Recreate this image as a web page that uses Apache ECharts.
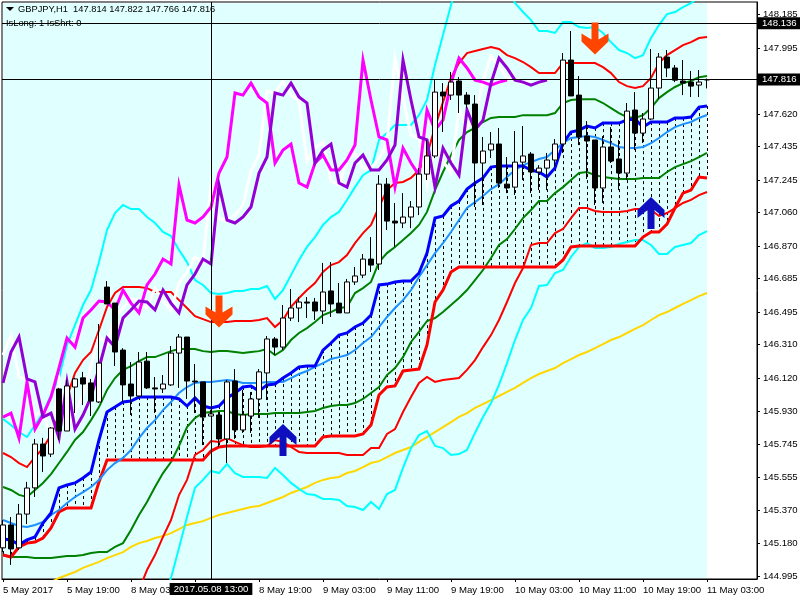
<!DOCTYPE html>
<html>
<head>
<meta charset="utf-8">
<style>html,body{margin:0;padding:0;background:#fff}#c{width:800px;height:600px}</style>
<script src="https://cdn.jsdelivr.net/npm/echarts@6/dist/echarts.min.js"></script>
</head>
<body>
<div id="c"></div>
<script>
const open=[145.155,145.285,145.155,145.347,145.496,145.745,145.688,146.058,145.819,146.069,146.121,146.092,145.984,146.637,146.546,146.279,146.086,146.018,146.216,146.064,146.058,146.081,146.262,146.353,146.103,146.098,145.904,145.910,145.774,146.103,145.825,145.904,146.001,146.149,146.342,146.296,146.461,146.518,146.552,146.552,146.501,146.615,146.546,146.490,146.666,146.705,146.796,146.768,147.222,147.012,147.001,147.035,147.092,147.279,147.382,147.745,147.728,147.808,147.728,147.677,147.342,147.416,147.450,147.222,147.205,147.347,147.393,147.291,147.313,147.359,147.450,147.927,147.728,147.495,147.473,147.200,147.433,147.365,147.285,147.643,147.512,147.592,147.768,147.944,147.882,147.808,147.802,147.785,147.814];
const close=[145.285,145.149,145.347,145.495,145.745,145.677,145.836,145.819,146.075,146.115,146.086,145.989,146.205,146.541,146.268,146.081,146.018,146.211,146.064,146.058,146.086,146.262,146.353,146.103,146.098,145.898,145.916,145.774,146.098,145.825,145.910,146.001,146.155,146.342,146.296,146.461,146.518,146.552,146.546,146.501,146.609,146.541,146.490,146.666,146.700,146.796,146.762,147.222,147.012,147.001,147.035,147.092,147.279,147.382,147.745,147.723,147.802,147.728,147.677,147.342,147.410,147.450,147.228,147.200,147.347,147.382,147.291,147.313,147.359,147.450,147.927,147.723,147.490,147.467,147.200,147.433,147.353,147.285,147.637,147.512,147.592,147.768,147.944,147.882,147.813,147.796,147.779,147.802,147.816];
const low=[145.132,145.058,145.143,145.290,145.444,145.586,145.671,145.768,145.819,145.921,145.967,145.904,145.978,146.541,146.188,145.984,145.910,146.012,146.058,145.921,146.035,146.075,146.064,146.001,145.921,145.739,145.904,145.728,145.637,145.774,145.808,145.808,145.893,145.995,146.251,146.279,146.444,146.438,146.461,146.450,146.427,146.467,146.490,146.490,146.649,146.688,146.723,146.734,146.961,146.865,146.972,146.972,147.046,147.245,147.370,147.518,147.700,147.626,147.654,147.092,147.103,147.370,147.200,147.171,147.160,147.245,147.171,147.188,147.188,147.319,147.399,147.723,147.444,147.251,147.103,147.115,147.342,147.188,147.245,147.416,147.456,147.586,147.705,147.830,147.802,147.728,147.717,147.717,147.766];
const high=[145.313,145.330,145.404,145.530,145.774,145.780,145.841,146.064,146.109,146.121,146.155,146.115,146.427,146.671,146.546,146.290,146.211,146.268,146.268,146.126,146.137,146.302,146.370,146.353,146.200,146.098,145.938,145.927,146.109,146.171,146.052,146.041,146.171,146.359,146.353,146.535,146.626,146.580,146.580,146.575,146.774,146.779,146.660,146.683,146.751,146.825,146.921,147.273,147.257,147.115,147.171,147.126,147.313,147.473,147.813,147.796,147.859,147.830,147.745,147.728,147.490,147.518,147.541,147.376,147.524,147.552,147.404,147.330,147.399,147.478,147.967,148.092,147.836,147.580,147.473,147.495,147.546,147.473,147.683,147.745,147.626,147.990,147.967,147.984,147.899,147.927,147.865,147.870,147.822];

const kijunBlue=[145.205,145.200,145.172,145.200,145.217,145.296,145.353,145.496,145.512,145.524,145.552,145.586,145.768,145.927,145.955,145.984,145.989,146.012,146.012,146.012,146.012,146.012,146.001,145.961,146.007,145.961,145.950,145.961,146.007,146.035,146.069,146.075,146.046,146.081,146.086,146.120,146.149,146.183,146.188,146.188,146.279,146.319,146.364,146.376,146.410,146.433,146.478,146.649,146.654,146.666,146.671,146.671,146.717,146.830,147.029,147.041,147.098,147.126,147.194,147.228,147.257,147.319,147.325,147.325,147.325,147.325,147.302,147.291,147.262,147.313,147.455,147.518,147.529,147.552,147.541,147.569,147.569,147.569,147.586,147.592,147.546,147.575,147.575,147.575,147.598,147.598,147.603,147.660,147.666];
const dodgerMa=[145.313,145.296,145.279,145.273,145.285,145.302,145.342,145.370,145.410,145.444,145.472,145.501,145.541,145.597,145.637,145.666,145.711,145.779,145.836,145.881,145.938,145.984,146.035,146.069,146.092,146.098,146.098,146.103,146.109,146.103,146.092,146.092,146.092,146.098,146.098,146.098,146.120,146.143,146.160,146.183,146.205,146.228,146.239,146.251,146.279,146.319,146.353,146.410,146.467,146.518,146.563,146.620,146.694,146.762,146.830,146.887,146.950,147.018,147.086,147.120,147.154,147.194,147.222,147.262,147.302,147.330,147.347,147.365,147.376,147.416,147.455,147.484,147.490,147.495,147.490,147.473,147.455,147.433,147.427,147.427,147.433,147.455,147.484,147.518,147.546,147.563,147.575,147.598,147.615];
const greenUpper=[145.501,145.484,145.456,145.444,145.484,145.524,145.574,145.637,145.700,145.768,145.813,145.881,145.955,146.052,146.120,146.166,146.188,146.216,146.239,146.239,146.256,146.273,146.285,146.285,146.285,146.273,146.268,146.273,146.273,146.268,146.262,146.268,146.273,146.285,146.251,146.279,146.336,146.376,146.404,146.438,146.478,146.495,146.518,146.524,146.603,146.631,146.666,146.779,146.830,146.865,146.904,146.944,146.990,147.064,147.188,147.291,147.387,147.473,147.518,147.541,147.575,147.598,147.603,147.603,147.603,147.614,147.614,147.614,147.614,147.626,147.683,147.700,147.705,147.705,147.705,147.683,147.654,147.626,147.603,147.598,147.614,147.654,147.711,147.745,147.774,147.796,147.808,147.830,147.836];
const greenLower=[145.114,145.103,145.103,145.103,145.097,145.097,145.097,145.103,145.109,145.109,145.114,145.126,145.131,145.131,145.160,145.182,145.256,145.342,145.416,145.501,145.580,145.643,145.734,145.841,145.893,145.921,145.927,145.933,145.933,145.916,145.910,145.916,145.916,145.916,145.921,145.921,145.921,145.921,145.927,145.933,145.950,145.961,145.967,145.967,145.978,146.001,146.035,146.069,146.137,146.177,146.239,146.325,146.382,146.444,146.461,146.495,146.535,146.575,146.620,146.677,146.734,146.802,146.876,146.910,146.967,147.029,147.075,147.126,147.126,147.171,147.205,147.245,147.285,147.291,147.273,147.262,147.257,147.251,147.251,147.251,147.257,147.257,147.257,147.291,147.319,147.336,147.353,147.376,147.399];
const redThick=[145.114,145.103,145.160,145.182,145.188,145.211,145.268,145.359,145.382,145.382,145.382,145.382,145.530,145.654,145.654,145.654,145.654,145.654,145.654,145.654,145.654,145.654,145.654,145.654,145.654,145.654,145.705,145.728,145.734,145.734,145.734,145.734,145.734,145.734,145.734,145.734,145.734,145.734,145.734,145.734,145.785,145.791,145.791,145.791,145.791,145.802,145.853,146.024,146.069,146.075,146.160,146.166,146.171,146.308,146.552,146.620,146.723,146.751,146.751,146.751,146.751,146.751,146.751,146.751,146.751,146.751,146.751,146.751,146.751,146.751,146.791,146.865,146.870,146.870,146.870,146.870,146.870,146.870,146.870,146.870,146.921,146.950,146.950,146.995,147.086,147.171,147.188,147.262,147.257];
const redUpper=[145.694,145.671,145.637,145.614,145.671,145.722,145.796,145.910,146.012,146.149,146.222,146.268,146.393,146.524,146.603,146.637,146.637,146.637,146.631,146.609,146.609,146.609,146.563,146.518,146.472,146.455,146.438,146.438,146.438,146.444,146.444,146.444,146.450,146.461,146.410,146.450,146.524,146.575,146.620,146.660,146.723,146.762,146.779,146.819,146.887,146.944,146.990,147.092,147.188,147.228,147.234,147.257,147.302,147.387,147.546,147.688,147.825,147.910,147.967,147.978,147.990,148.001,147.990,147.955,147.938,147.916,147.887,147.853,147.853,147.853,147.910,147.910,147.910,147.910,147.910,147.887,147.853,147.802,147.779,147.768,147.779,147.825,147.910,147.955,147.984,148.012,148.029,148.052,148.058];
const redLowerStart=16;
const redLower=[144.774,144.916,145.029,145.114,145.217,145.313,145.455,145.541,145.683,145.711,145.762,145.757,145.779,145.757,145.739,145.728,145.728,145.734,145.768,145.757,145.728,145.700,145.694,145.694,145.694,145.694,145.694,145.683,145.683,145.683,145.722,145.722,145.802,145.830,145.927,146.012,146.092,146.126,146.098,146.109,146.115,146.120,146.166,146.222,146.296,146.364,146.450,146.552,146.660,146.745,146.876,146.887,146.887,146.944,146.967,147.029,147.086,147.086,147.069,147.064,147.064,147.064,147.069,147.080,147.080,147.075,147.041,147.058,147.086,147.115,147.132,147.160,147.177];
const cyanUpper=[145.887,145.853,145.813,145.785,145.853,145.921,146.024,146.120,146.308,146.421,146.535,146.620,146.779,146.961,147.058,147.103,147.080,147.080,147.035,147.001,146.950,146.927,146.848,146.779,146.677,146.649,146.603,146.598,146.603,146.615,146.615,146.626,146.626,146.643,146.569,146.620,146.705,146.791,146.865,146.921,146.990,147.035,147.064,147.132,147.205,147.273,147.302,147.473,147.512,147.558,147.558,147.558,147.614,147.700,147.899,148.069,148.240,148.37,148.44,148.48,148.50,148.48,148.44,148.36,148.251,148.200,148.154,148.092,148.092,148.081,148.143,148.143,148.115,148.109,148.115,148.081,148.029,147.984,147.967,147.938,147.955,148.052,148.126,148.188,148.200,148.228,148.251,148.285,148.313];
const cyanLowerStart=20;
const cyanLower=[144.859,144.984,145.154,145.330,145.496,145.541,145.592,145.580,145.631,145.580,145.558,145.558,145.558,145.552,145.609,145.569,145.524,145.490,145.461,145.455,145.433,145.433,145.427,145.393,145.387,145.370,145.416,145.376,145.461,145.484,145.609,145.722,145.796,145.819,145.734,145.722,145.683,145.688,145.711,145.808,145.899,145.978,146.081,146.205,146.336,146.450,146.518,146.643,146.649,146.717,146.734,146.808,146.865,146.887,146.859,146.859,146.865,146.882,146.893,146.904,146.904,146.876,146.825,146.825,146.865,146.876,146.887,146.933,146.955];
const goldStart=6;
const gold=[144.961,144.984,145.001,145.018,145.041,145.058,145.075,145.097,145.114,145.131,145.160,145.182,145.194,145.211,145.222,145.239,145.262,145.285,145.296,145.307,145.325,145.342,145.353,145.364,145.376,145.387,145.393,145.410,145.427,145.444,145.467,145.484,145.501,145.524,145.541,145.552,145.558,145.580,145.592,145.614,145.637,145.648,145.671,145.694,145.711,145.728,145.757,145.785,145.813,145.841,145.870,145.899,145.921,145.950,145.972,145.995,146.018,146.041,146.064,146.092,146.120,146.143,146.160,146.177,146.205,146.228,146.251,146.268,146.290,146.313,146.336,146.353,146.376,146.399,146.421,146.450,146.478,146.495,146.518,146.541,146.563,146.586,146.603];
const magenta=[145.898,145.921,145.779,146.098,145.830,145.910,146.012,146.177,146.347,146.296,146.461,146.507,146.558,146.552,146.507,146.620,146.546,146.490,146.649,146.711,146.796,146.768,147.217,147.018,147.001,147.035,147.092,147.285,147.376,147.740,147.728,147.796,147.717,147.683,147.342,147.416,147.450,147.228,147.205,147.342,147.387,147.302,147.302,147.359,147.444,147.927,147.700,147.490,147.473,147.205,147.427,147.342,147.273,147.643,147.529,147.586,147.796,147.938,147.882,147.813,147.802,147.785,147.802,147.813];
const violet=[146.092,146.268,146.353,146.115,146.098,145.898,145.921,145.779,146.098,145.830,145.910,146.012,146.177,146.347,146.296,146.461,146.507,146.558,146.552,146.507,146.620,146.546,146.490,146.649,146.711,146.796,146.768,147.217,147.018,147.001,147.035,147.092,147.285,147.376,147.740,147.728,147.796,147.717,147.683,147.342,147.416,147.450,147.228,147.205,147.342,147.387,147.302,147.302,147.359,147.444,147.927,147.700,147.490,147.473,147.205,147.427,147.342,147.273,147.643,147.529,147.586,147.796,147.938,147.882,147.813,147.802,147.785,147.802,147.813];
const whiteLine=[146.251,146.359,146.126,146.109,145.910,145.933,145.790,146.109,145.841,145.921,146.024,146.188,146.359,146.308,146.472,146.518,146.569,146.563,146.518,146.631,146.558,146.501,146.660,146.723,146.808,146.779,147.228,147.029,147.012,147.046,147.103,147.296,147.387,147.751,147.740,147.808,147.728,147.694,147.353,147.427,147.461,147.239,147.217,147.353,147.399,147.313,147.313,147.370,147.455,147.938,147.711,147.501,147.484,147.217,147.438,147.353,147.285,147.654,147.541,147.598,147.808,147.950,147.893,147.825,147.813,147.796,147.813];

const sellBars=[27,74], sellPrices=[146.498,148.049];
const buyBars=[4,35,81], buyPrices=[144.938,145.768,147.058];
const priceTicks=[148.185,147.995,147.810,147.620,147.435,147.245,147.060,146.870,146.685,146.495,146.310,146.120,145.930,145.745,145.555,145.370,145.180,144.995];
const timeTickBars=[0,8,16,24,32,40,48,56,64,72,80,88];
const timeTickLabels=['5 May 2017','5 May 19:00','8 May 03:00','8 May 11:00','8 May 19:00','9 May 03:00','9 May 11:00','9 May 19:00','10 May 03:00','10 May 11:00','10 May 19:00','11 May 03:00'];
const lastPrice=147.816, crossPrice=148.136, crossBar=26, crossTime='2017.05.08 13:00', lastBar=88;
const headerText='GBPJPY,H1  147.814 147.822 147.766 147.816';
const statusText='IsLong: 1 IsShrt: 0';
const priceMin=144.978, priceMax=148.257;

const FONT='"Liberation Sans", sans-serif';
const pairs=(a,s=0)=>a.map((v,i)=>[i+s,v]);
const line=(name,data,color,width)=>({name,type:'line',data,symbol:'none',silent:true,z:2,
  lineStyle:{color,width,join:'miter',cap:'butt'},itemStyle:{color},animation:false});

const arrowDown='path://M10,0H17V17L27,11V19L13.5,32L0,19V11L10,17Z';
const arrowUp='path://M13.5,0L27,13V21L17,13V32H10V13L0,21V13Z';

const candles=open.map((o,i)=>[i,o,close[i],low[i],high[i]]);
const hatch=kijunBlue.map((v,i)=>[i,v,redThick[i]]).filter(d=>d[1]>d[2]);

const chart=echarts.init(document.getElementById('c'));
chart.setOption({
  animation:false,
  backgroundColor:'#fff',
  grid:{left:2,right:43,top:2,bottom:21,outerBoundsMode:'none',show:true,backgroundColor:'#fff',borderColor:'#000',borderWidth:1},
  xAxis:{type:'value',min:-0.125,max:94.25,splitLine:{show:false},
    axisLine:{show:true,lineStyle:{color:'#000'}},
    axisTick:{show:true,length:3,lineStyle:{color:'#000'},customValues:timeTickBars},
    axisLabel:{show:true,customValues:timeTickBars,color:'#000',fontFamily:FONT,fontSize:9.6,align:'left',margin:6,hideOverlap:false,
      formatter:v=>timeTickLabels[timeTickBars.indexOf(v)]||''}},
  yAxis:{type:'value',position:'right',min:priceMin,max:priceMax,splitLine:{show:false},
    axisLine:{show:true,onZero:false,lineStyle:{color:'#000'}},
    axisTick:{show:true,length:3,lineStyle:{color:'#000'},customValues:priceTicks},
    axisLabel:{show:true,customValues:priceTicks,color:'#000',fontFamily:FONT,fontSize:9.6,margin:6,
      formatter:v=>v.toFixed(3)}},
  graphic:[
    {type:'polygon',z:20,shape:{points:[[6,7],[14,7],[10,11]]},style:{fill:'#000'}},
    {type:'text',z:20,left:18,top:5,style:{text:headerText,font:'9.3px '+FONT,fill:'#000'}},
    {type:'text',z:20,left:6,top:19,style:{text:statusText,font:'9.3px '+FONT,fill:'#000'}}
  ],
  series:[
    {name:'bg',type:'line',data:[],silent:true,z:0,symbol:'none',
      markArea:{silent:true,itemStyle:{color:'#E0FFFF',borderWidth:0},
        data:[[{coord:[0,144.984]},{coord:[lastBar,148.250]}]]}},
    {name:'hatch',type:'custom',z:1,silent:true,clip:true,data:hatch,encode:{x:0,y:[1,2]},
      renderItem:(p,api)=>{
        const a=api.coord([api.value(0),api.value(1)]), b=api.coord([api.value(0),api.value(2)]);
        return {type:'line',shape:{x1:Math.round(a[0])+.5,y1:a[1],x2:Math.round(a[0])+.5,y2:b[1]},
          style:{stroke:'#000',lineWidth:1,lineDash:[3,3]}};
      }},
    line('gold',pairs(gold,goldStart),'#FFD700',2),
    line('cyanUpper',pairs(cyanUpper),'#00FFFF',2),
    line('cyanLower',pairs(cyanLower,cyanLowerStart),'#00FFFF',2),
    line('greenUpper',pairs(greenUpper),'#008000',2),
    line('greenLower',pairs(greenLower),'#008000',2),
    line('redLower',pairs(redLower,redLowerStart),'#FF0000',2),
    line('redUpper',pairs(redUpper),'#FF0000',2),
    line('redThick',pairs(redThick),'#FF0000',3),
    line('dodgerMa',pairs(dodgerMa),'#1E90FF',2),
    line('kijunBlue',pairs(kijunBlue),'#0000FF',3),
    line('whiteLine',pairs(whiteLine),'#FFFFFF',3),
    line('magenta',pairs(magenta),'#FF00FF',3),
    line('violet',pairs(violet),'#9400D3',3),
    {name:'GBPJPY',type:'candlestick',z:5,silent:true,data:candles,barWidth:5,
      itemStyle:{color:'#FFFFFF',color0:'#000000',borderColor:'#000000',borderColor0:'#000000',borderWidth:1}},
    {name:'sell',type:'scatter',z:6,silent:true,data:sellBars.map((b,i)=>[b,sellPrices[i]]),
      symbol:arrowDown,symbolSize:[27,32],itemStyle:{color:'#FF4500',opacity:1}},
    {name:'buy',type:'scatter',z:6,silent:true,clip:true,data:buyBars.map((b,i)=>[b,buyPrices[i]]),
      symbol:arrowUp,symbolSize:[27,32],itemStyle:{color:'#0F0FC0',opacity:1}},
    {name:'cross',type:'line',data:[],z:7,silent:true,symbol:'none',
      markLine:{silent:true,symbol:'none',animation:false,precision:3,
        lineStyle:{color:'#000',width:1,type:'solid'},
        label:{show:true,position:'end',distance:1,backgroundColor:'#000',color:'#fff',fontFamily:FONT,fontSize:9.6,padding:[1,4,1,4],formatter:p=>p.value.toFixed(3)},
        data:[{yAxis:lastPrice},{yAxis:crossPrice},
          {xAxis:crossBar,label:{position:'start',distance:4,formatter:crossTime,padding:[1,4,1,4]}}]}}
  ]
});
</script>
</body>
</html>
